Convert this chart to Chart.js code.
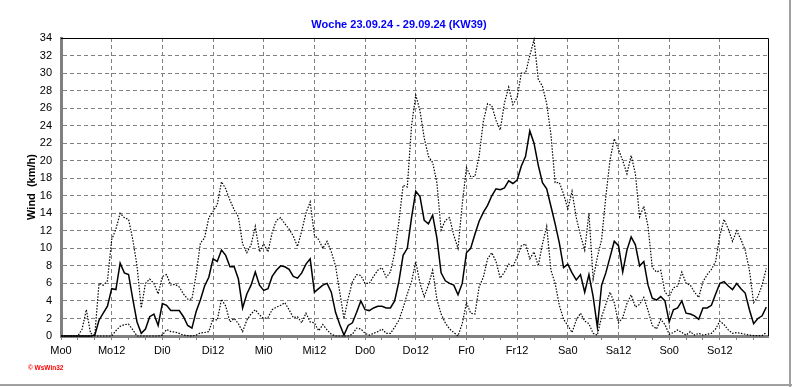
<!DOCTYPE html>
<html><head><meta charset="utf-8">
<script src="https://cdn.jsdelivr.net/npm/chart.js@4"></script>
<style>html,body{margin:0;padding:0;background:#fff;overflow:hidden}canvas{display:block}</style>
</head><body>
<canvas id="c" width="792" height="387"></canvas>
<script>
const titleText = 'Woche 23.09.24 - 29.09.24 (KW39)';
const yTitle = 'Wind  (km/h)';
const creditText = '\u00A9 WsWin32';
const dayLabels = ['Mo0','Mo12','Di0','Di12','Mi0','Mi12','Do0','Do12','Fr0','Fr12','Sa0','Sa12','So0','So12'];

const windAvg = [0,0,0,0,0,0,0,0,0.1,1.8,2.6,3.4,
 5.4,5.3,8.3,7.2,7.0,4.2,1.6,0.3,0.8,2.2,2.5,1.2,
 3.7,3.5,2.9,2.9,2.9,2.2,1.2,0.9,2.8,4.1,5.7,6.7,
 8.8,8.5,9.8,9.2,7.9,7.9,6.5,3.2,4.8,5.8,7.3,5.8,
 5.2,5.4,6.8,7.5,8.0,7.9,7.6,6.8,6.6,7.2,8.2,8.8,
 5.0,5.4,5.8,6.0,5.0,2.7,1.3,0.1,1.2,1.5,2.7,4.0,
 3.0,2.9,3.2,3.4,3.4,3.2,3.2,4.0,6.2,9.2,10.0,13.5,
 16.5,15.9,13.2,12.8,13.8,11.2,7.2,6.3,6.0,5.8,4.7,6.0,
 9.5,10.0,11.6,13.1,14.1,14.9,16.0,16.8,16.7,16.9,17.7,17.4,
 17.8,19.4,20.5,23.4,22.0,19.5,17.5,16.8,14.8,12.8,10.6,7.8,
 8.2,7.2,6.4,7.0,5.0,7.0,4.5,1.0,5.8,7.2,9.0,10.8,
 10.3,7.3,9.8,11.3,10.4,8.0,8.5,5.8,4.3,4.1,4.5,4.0,
 1.6,3.0,3.2,4.0,2.6,2.5,2.3,1.9,3.2,3.2,3.5,4.8,
 6.0,6.2,5.7,5.3,6.0,5.4,4.9,3.0,1.4,2.0,2.3,3.3];

const windMax = [0,0,0,0,0,0.8,3.0,0.3,0.1,6.0,5.8,6.3,
 11.0,12.2,14.0,13.5,13.3,11.0,8.0,3.2,6.0,6.5,6.0,4.8,
 6.8,7.0,5.8,5.9,5.6,4.8,4.2,4.2,7.0,10.6,11.2,13.5,
 14.2,15.0,17.6,16.8,15.5,14.4,13.6,10.5,9.5,10.4,12.5,9.6,
 10.5,9.6,11.8,13.2,13.5,12.8,12.2,11.4,10.2,12.0,14.0,15.3,
 11.5,11.0,10.0,10.8,9.6,8.0,5.0,2.0,4.3,6.2,7.0,6.9,
 6.0,6.0,6.8,7.5,7.8,6.7,7.3,9.5,13.0,17.2,17.0,24.0,
 27.5,25.7,22.6,20.5,19.8,17.5,12.1,13.2,13.5,11.5,10.0,15.0,
 19.2,18.2,18.2,20.5,24.5,26.5,26.3,24.6,23.5,26.6,28.4,26.4,
 27.2,30.0,30.0,32.0,33.8,29.3,28.5,26.5,23.0,17.5,17.5,16.2,
 14.5,16.5,13.5,11.5,9.8,14.0,6.5,9.0,11.0,15.9,20.1,22.5,
 21.3,20.0,18.5,20.6,18.5,13.6,14.8,12.5,7.8,7.3,7.5,5.0,
 4.5,5.5,5.7,7.3,6.0,5.8,5.0,4.4,6.2,7.0,7.6,8.5,
 11.5,13.3,12.2,10.8,12.0,11.0,9.8,7.5,3.8,4.5,5.8,7.7];

const windMin = [0,0,0,0,0,0,0,0,0,0,0,0,
 0,0.6,1.1,1.3,1.35,0.7,0,0,0,0,0,0,
 0.1,0.75,0.5,0.45,0.3,0.1,0.05,0,0.1,0.35,0.4,0.5,
 2.0,1.8,4.2,3.4,1.6,2.0,1.4,0.5,1.8,2.5,3.0,2.4,
 2.0,2.1,3.0,3.3,3.5,3.8,3.0,2.1,2.2,1.5,2.6,1.6,
 1.5,0.6,1.3,0.7,0.2,0,0,0,0,0.2,0.9,0.8,
 0.3,0.1,0.3,0.5,0.8,0.3,0.3,1.0,1.8,3.2,4.8,6.2,
 8.5,6.0,4.5,5.8,7.5,4.2,2.5,1.5,0.8,0.4,0,1.4,
 3.8,2.6,2.5,5.6,6.7,8.8,9.5,8.5,6.6,7.3,8.2,7.9,
 9.0,10.3,10.5,8.8,9.6,8.0,10.5,12.5,7.5,6.0,3.5,1.9,
 1.2,0.4,1.8,2.6,1.7,1.4,0.3,0.1,2.2,3.6,5.0,3.8,
 1.5,2.1,3.7,4.7,3.3,3.6,4.4,2.9,1.2,0.8,1.9,1.3,
 0.2,0.4,0.7,0.4,0.1,0.5,0.1,0.3,0.1,0.2,0.3,0.8,
 1.7,1.3,0.7,0.3,0.4,0.3,0.2,0.1,0.05,0.05,0.05,0.4];

const hours = windAvg.map((_, i) => i);

const FONT = '"Liberation Sans", Arial, sans-serif';

const framePlugin = {
  id: 'frame',
  beforeDraw(chart) {
    const ctx = chart.ctx;
    ctx.save();
    ctx.fillStyle = '#ffffff';
    ctx.fillRect(0, 0, chart.width, chart.height);
    ctx.restore();
  },
  afterDraw(chart) {
    const {ctx, chartArea: a} = chart;
    ctx.save();
    ctx.strokeStyle = '#000000';
    ctx.lineWidth = 1;
    ctx.setLineDash([]);
    ctx.beginPath();
    ctx.moveTo(a.left, Math.round(a.top) + 0.5);
    ctx.lineTo(Math.round(a.right) + 0.5, Math.round(a.top) + 0.5);
    ctx.lineTo(Math.round(a.right) + 0.5, a.bottom);
    ctx.stroke();
    // window frame
    ctx.fillStyle = '#a0a0a0';
    ctx.fillRect(789, 0, 2, 387);
    ctx.fillRect(0, 384, 792, 2);
    // title
    ctx.fillStyle = '#0000ff';
    ctx.font = 'bold 11px ' + FONT;
    ctx.textAlign = 'center';
    ctx.textBaseline = 'alphabetic';
    ctx.fillText(titleText, 399, 28);
    // credit
    ctx.fillStyle = '#ff0000';
    ctx.font = 'bold 6.5px ' + FONT;
    ctx.textAlign = 'left';
    ctx.fillText(creditText, 28, 370);
    ctx.restore();
  }
};

new Chart(document.getElementById('c'), {
  type: 'line',
  data: {
    labels: hours,
    datasets: [
      {label: 'Max', data: windMax, borderColor: '#000', borderWidth: 1.2, borderDash: [1.5, 1.5], pointRadius: 0, tension: 0, clip: 3},
      {label: 'Mittel', data: windAvg, borderColor: '#000', borderWidth: 1.5, pointRadius: 0, tension: 0, clip: 3},
      {label: 'Min', data: windMin, borderColor: '#000', borderWidth: 1.2, borderDash: [1.5, 1.5], pointRadius: 0, tension: 0, clip: 3}
    ]
  },
  options: {
    responsive: false,
    animation: false,
    devicePixelRatio: 1,
    layout: {padding: {top: 38, right: 24, left: 0, bottom: 0}},
    plugins: {legend: {display: false}, tooltip: {enabled: false}, title: {display: false}},
    scales: {
      x: {
        type: 'linear', min: 0, max: 167.4,
        afterFit: s => { s.height = 51; },
        ticks: {
          stepSize: 4, autoSkip: false, maxRotation: 0, includeBounds: false,
          color: '#000', font: {family: FONT, size: 11}, padding: 4,
          callback: v => (v % 12 === 0 ? (dayLabels[v / 12] || '') : '')
        },
        grid: {
          color: c => (c.tick && c.tick.value % 12 === 0 ? '#808080' : 'rgba(0,0,0,0)'),
          tickColor: '#808080', tickLength: 4, lineWidth: 1
        },
        border: {color: '#808080', width: 3, dash: [4, 3]}
      },
      y: {
        min: 0, max: 34,
        afterFit: s => { s.width = 61; },
        ticks: {stepSize: 2, color: '#000', font: {family: FONT, size: 11}, padding: 9},
        grid: {color: '#808080', drawTicks: false, lineWidth: 1},
        border: {color: '#808080', width: 3, dash: [4, 3]},
        title: {display: true, text: yTitle, color: '#000', font: {family: FONT, size: 11, weight: 'bold'}, padding: {top: 25, bottom: 0}}
      }
    }
  },
  plugins: [framePlugin]
});
</script>
</body></html>
